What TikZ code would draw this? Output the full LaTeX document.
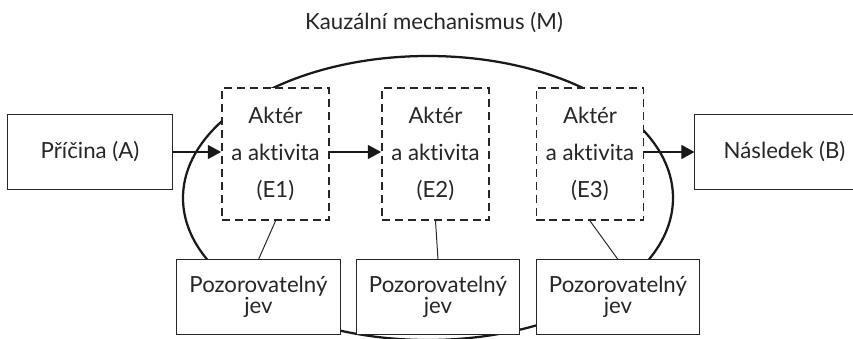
\documentclass[tikz,border=0pt]{standalone}
\usepackage{fontspec}
\setmainfont{Lato}[Ligatures=NoCommon]
\usetikzlibrary{arrows.meta}

\begin{document}
\begin{tikzpicture}[x=0.025cm, y=-0.025cm,
  every node/.style={font=\fontsize{15.8}{14.5}\selectfont, text=black!85},
  sbox/.style={draw=black!85, fill=white, line width=0.7pt, inner sep=0pt, align=center, minimum height=1.85cm},
  ebox/.style={draw=black!85, fill=white, line width=1.3pt, dash pattern=on 5.7pt off 3.5pt, inner sep=0pt, align=center, minimum width=2.675cm, minimum height=3.3cm},
  pbox/.style={sbox, minimum width=4.075cm},
  arr/.style={line width=1pt, black!90, -{Triangle[length=0.33cm, width=0.35cm]}},
  link/.style={line width=0.7pt, black!85}]
\useasboundingbox (0,0) rectangle (853,339);
\clip (0,0) rectangle (853,339);
% mechanismus
\draw[line width=1.6pt, black!90] (428,198) ellipse [x radius=245, y radius=142];
\node (title) at (434,23) {Kauzální mechanismus (M)};
\node[sbox, minimum width=4.1cm] (A) at (90,152) {Příčina (A)};
\node[sbox, minimum width=4.475cm] (B) at (784.5,152) {Následek (B)};
\node[ebox] (E1) at (275.5,154) {Aktér\\[11.5pt]a aktivita\\[11.5pt](E1)};
\node[ebox] (E2) at (435.5,154) {Aktér\\[11.5pt]a aktivita\\[11.5pt](E2)};
\node[ebox] (E3) at (590,154) {Aktér\\[11.5pt]a aktivita\\[11.5pt](E3)};
\node[pbox] (P1) at (258.5,297) {Pozorovatelný\\jev};
\node[pbox] (P2) at (438,297) {Pozorovatelný\\jev};
\node[pbox] (P3) at (618,297) {Pozorovatelný\\jev};
% sipky
\draw[arr] (A.east) -- (A.east -| E1.west);
\draw[arr] (E1.east |- A.east) -- (A.east -| E2.west);
\draw[arr] (E3.east |- B.west) -- (B.west);
\draw[link] (E1.south) -- (P1.north);
\draw[link] (E2.south) -- (P2.north);
\draw[link] (E3.south) -- (P3.north);
\end{tikzpicture}
\end{document}
